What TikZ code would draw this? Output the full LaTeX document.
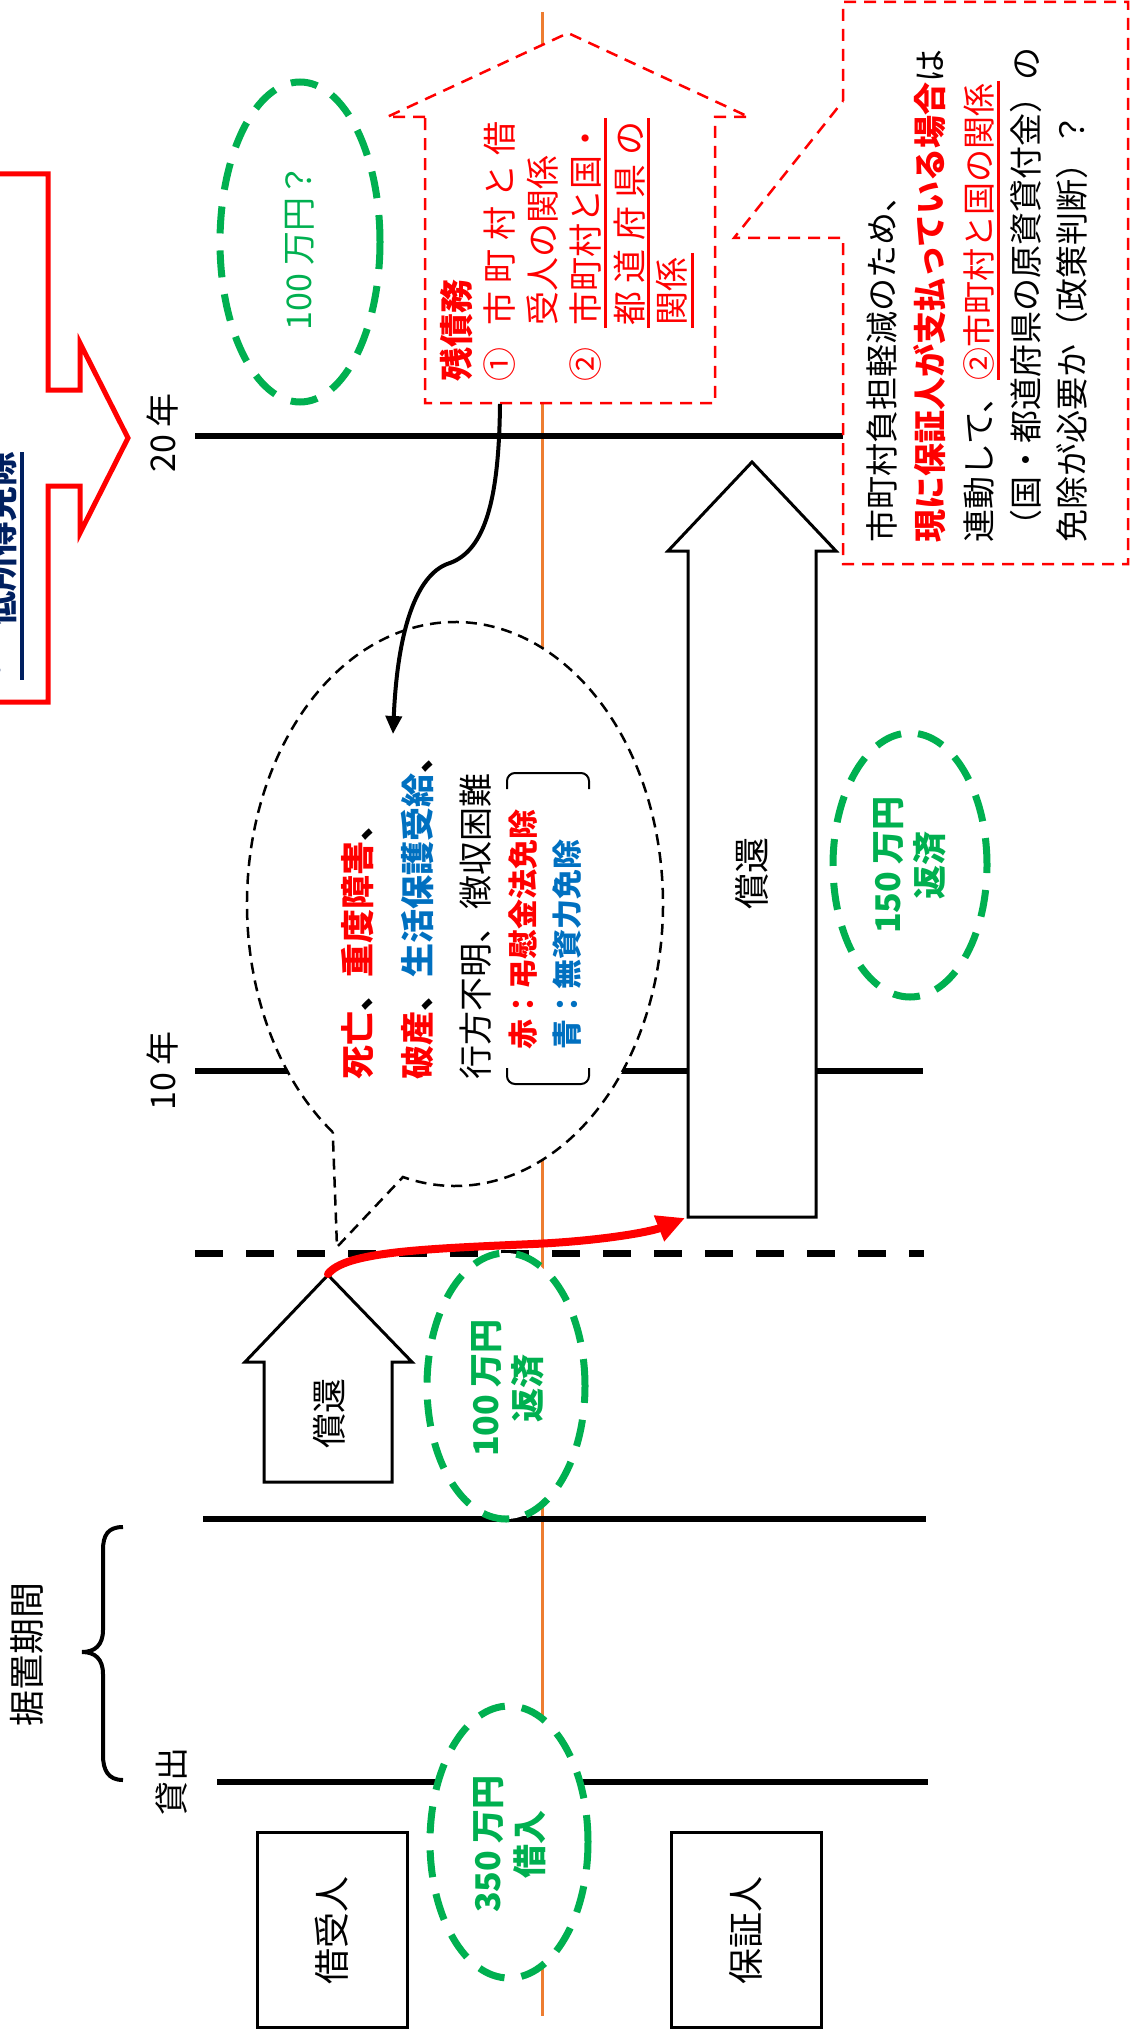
\documentclass[tikz,border=0pt]{standalone}
\usepackage{fontspec}
\setmainfont{Noto Sans CJK JP}
\usetikzlibrary{arrows.meta,shapes.geometric}
\definecolor{jred}{HTML}{FF0000}
\definecolor{jblue}{HTML}{0070C0}
\definecolor{jgreen}{HTML}{00B050}
\definecolor{jorange}{HTML}{ED7D31}
\definecolor{jnavy}{HTML}{002060}
\newcommand\FS[2]{\fontsize{#1}{#2}\selectfont}
\begin{document}
\begin{tikzpicture}[x=1pt,y=-1pt,
  vt/.style={rotate=90, inner sep=0pt, anchor=west},
  vc/.style={rotate=90, inner sep=0pt},
  tline/.style={line width=6.5pt, black},
  gell/.style={ellipse, draw=jgreen, fill=white, line width=7pt, dash pattern=on 27pt off 17pt, inner sep=0pt},
  gtxt/.style={rotate=90, inner sep=0pt, text=jgreen, align=center, font=\FS{34}{42}\bfseries},
  blk/.style={draw=black, line width=3pt, fill=white, line join=miter},
  rdash/.style={draw=jred, line width=2.5pt, dash pattern=on 12pt off 8pt, fill=white},
  boxst/.style={draw=black, line width=3pt, rotate=90, inner sep=0pt, font=\FS{36}{36}},
  lab/.style={rotate=90, inner sep=0pt, font=\FS{34}{34}},
]
\useasboundingbox (0,0) rectangle (1131,2036);
\clip (0,0) rectangle (1131,2036);

% orange axis
\coordinate (otop) at (542,12);
\coordinate (obot) at (542,2016);
\draw[jorange, line width=3pt] (otop) -- (obot);

% low-income arrow box (cut at left edge)
\draw[jred, line width=5pt, fill=white] (-10,174) -- (48,174) -- (48,390) -- (80,390) -- (80,343) -- (128,438) -- (80,533) -- (80,486) -- (48,486) -- (48,702) -- (-10,702);
\node[vc, text=jnavy, font=\FS{36}{36}\bfseries] (lowdot) at (0,670) {・};
\node[vt, text=jnavy, font=\FS{35}{35}\bfseries] (lowinc) at (0,627) {低所得免除};
\draw[jnavy, line width=4pt] (22,452) -- (22,680);

% time lines
\coordinate (l20a) at (195,436);  \coordinate (l20b) at (845,436);
\coordinate (l10a) at (195,1071); \coordinate (l10b) at (923,1071);
\coordinate (lda) at (195,1253);  \coordinate (ldb) at (924,1253);
\coordinate (l3a) at (203,1519);  \coordinate (l3b) at (926,1519);
\coordinate (lla) at (217,1782);  \coordinate (llb) at (928,1782);
\draw[tline] (l20a) -- (l20b);
\draw[tline] (l10a) -- (l10b);
\draw[line width=7pt, dash pattern=on 28pt off 23pt] (lda) -- (ldb);
\draw[tline] (l3a) -- (l3b);
\draw[tline] (lla) -- (llb);

\node[lab] (t20) at (163,433) {20 年};
\node[lab] (t10) at (163,1071) {10 年};
\node[lab] (tkas) at (172,1781) {貸出};
\node[lab, font=\FS{36}{36}] (tsue) at (27,1654) {据置期間};
\draw[line width=4pt] (123,1527) .. controls (108,1527) and (103,1535) .. (103,1550) -- (103,1630) .. controls (103,1645) and (95,1652) .. (82,1652) .. controls (95,1652) and (103,1659) .. (103,1674) -- (103,1755) .. controls (103,1770) and (108,1780) .. (123,1780);

% green ellipses
\node[gell, minimum width=160pt, minimum height=320pt] (e100q) at (300,242) {};
\node[rotate=90, inner sep=0pt, text=jgreen, font=\FS{34}{34}] at (300,247) {100 万円？};
\node[gell, minimum width=158pt, minimum height=266pt] (e100) at (506,1386) {};
\node[gtxt] at (508,1388) {100 万円\\返済};
\node[gell, minimum width=154pt, minimum height=264pt] (e150) at (910,865) {};
\node[gtxt] at (910,865) {150 万円\\返済};
\node[gell, minimum width=158pt, minimum height=272pt] (e350) at (509,1842) {};
\node[gtxt] at (510,1844) {350 万円\\借入};

% boxes
\node[boxst, minimum width=195pt, minimum height=150pt] (borrower) at (332,1930) {借受人};
\node[boxst, minimum width=195pt, minimum height=150pt] (guarantor) at (746,1930) {保証人};

% speech bubble
\draw[black, line width=2.5pt, dash pattern=on 11pt off 7pt, fill=white] (332.74,1132.14) arc[start angle=126, end angle=464.5, x radius=208, y radius=282] -- (337,1247) -- cycle;
\node[vt, font=\FS{34}{34}\bfseries] (b1) at (358,1080) {\textcolor{jred}{死亡}、\textcolor{jred}{重度障害}、};
\node[vt, font=\FS{34}{34}\bfseries] (b2) at (417,1080) {\textcolor{jred}{破産}、\textcolor{jblue}{生活保護受給}、};
\node[vt, font=\FS{34}{34}] (b3) at (476,1080) {行方不明、徴収困難};
\node[vt, font=\FS{30}{30}\bfseries, text=jred] (b4) at (523,1050) {赤：弔慰金法免除};
\node[vt, font=\FS{30}{30}\bfseries, text=jblue] (b5) at (567,1050) {青：無資力免除};
\draw[line width=2pt, rounded corners=8pt] (507,789) -- (507,773) -- (589,773) -- (589,789);
\draw[line width=2pt, rounded corners=8pt] (507,1068) -- (507,1084) -- (589,1084) -- (589,1068);

% block arrows
\draw[blk] (328,1275) -- (412,1362) -- (392,1362) -- (392,1482) -- (264,1482) -- (264,1362) -- (245,1362) -- cycle;
\node[lab, font=\FS{35}{35}] (s1) at (329,1413) {償還};
\draw[blk] (752,462) -- (836,551) -- (816,551) -- (816,1217) -- (688,1217) -- (688,551) -- (668,551) -- cycle;
\node[lab, font=\FS{36}{36}] (s2) at (752,873) {償還};

% callout: remaining debt
\draw[rdash] (425,117) -- (387,117) -- (568,33) -- (749,117) -- (715,117) -- (715,403) -- (425,403) -- cycle;
\node[vt, text=jred, font=\FS{34}{34}\bfseries] (r1) at (457,382) {残債務};
\node[vt, text=jred, font=\FS{34}{34}] (r2a) at (500,382) {①};
\node[vt, text=jred, font=\FS{34}{34}] (r2) at (500,326) {\hbox to 204pt{市\hfill 町\hfill 村\hfill と\hfill 借}};
\node[vt, text=jred, font=\FS{34}{34}] (r3) at (543,326) {受人の関係};
\node[vt, text=jred, font=\FS{34}{34}] (r4a) at (586,382) {②};
\node[vt, text=jred, font=\FS{34}{34}] (r4) at (586,326) {市町村と国・};
\node[vt, text=jred, font=\FS{34}{34}] (r5) at (630,326) {\hbox to 204pt{都\hfill 道\hfill 府\hfill 県\hfill の}};
\node[vt, text=jred, font=\FS{34}{34}] (r6) at (672,326) {関係};
\draw[jred, line width=3pt] (605,118) -- (605,328);
\draw[jred, line width=3pt] (648,118) -- (648,328);
\draw[jred, line width=3pt] (692,253) -- (692,328);

% callout: right note
\draw[rdash] (843,101) -- (843,2) -- (1128,2) -- (1128,564) -- (843,564) -- (843,238) -- (734,238) -- cycle;
\node[vt, font=\FS{33}{33}] (n1) at (882,543) {市町村負担軽減のため、};
\node[vt, font=\FS{33}{33}] (n2) at (930,543) {\textcolor{jred}{\bfseries 現に保証人が支払っている場合}は};
\node[vt, font=\FS{33}{33}] (n3) at (979,543) {連動して、\textcolor{jred}{②市町村と国の関係}};
\node[vt, font=\FS{33}{33}] (n4) at (1026,543) {（国・都道府県の原資貸付金）の};
\node[vt, font=\FS{33}{33}] (n5) at (1072,543) {免除が必要か（政策判断）？};
\draw[jred, line width=3pt] (998,81) -- (998,380);

% connectors
\coordinate (satip) at (328,1274);
\coordinate (babl) at (685,1218);
\coordinate (cbot) at (500,404);
\coordinate (btip) at (393,734);
\draw[jred, line width=8pt, line cap=round, -{Triangle[length=28pt,width=26pt]}] (satip) .. controls (345,1252) and (420,1249) .. (533,1244) .. controls (600,1241) and (650,1232) .. (babl);
\draw[black, line width=4pt, -{Triangle[length=18pt,width=16pt]}] (cbot) .. controls (499,500) and (485,550) .. (450,563) .. controls (420,572) and (398,620) .. (btip);
\end{tikzpicture}
\end{document}
